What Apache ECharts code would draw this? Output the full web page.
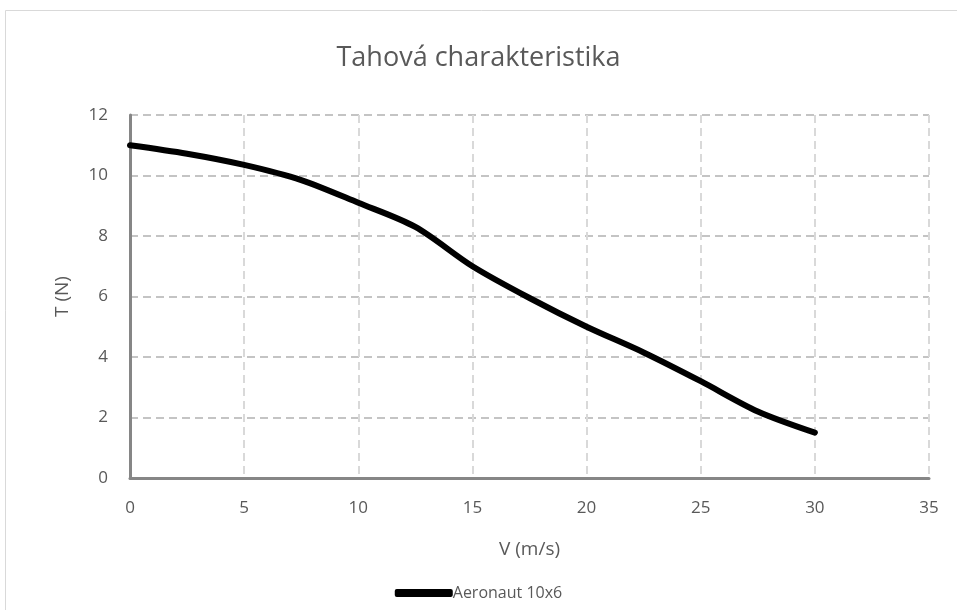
<!DOCTYPE html>
<html><head><meta charset="utf-8">
<script src="https://cdn.jsdelivr.net/npm/echarts@6/dist/echarts.min.js"></script>
<style>html,body{margin:0;padding:0;background:#fff}#c{width:957px;height:610px}</style>
</head><body><div id="c"></div>
<script>
var velocity = [0, 2.5, 5, 7.5, 10, 12.5, 15, 17.5, 20, 22.5, 25, 27.5, 30];
var thrust = [11.0, 10.72, 10.35, 9.85, 9.1, 8.3, 7.0, 5.95, 5.0, 4.15, 3.2, 2.2, 1.5];
var seriesName = 'Aeronaut 10x6';
var titleText = 'Tahová charakteristika';
var xTitle = 'V (m/s)';
var yTitle = 'T (N)';

var chart = echarts.init(document.getElementById('c'));
var font = 'Open Sans';
var txt = '#595959';
chart.setOption({
  animation: false,
  backgroundColor: '#fff',
  graphic: [{type:'rect', shape:{x:5.5,y:10.5,width:960,height:610}, style:{fill:'none', stroke:'#d9d9d9', lineWidth:1}}],
  title: {text: titleText, left: 'center', top: 40, textStyle:{fontFamily:font, fontSize:27, fontWeight:'normal', color:txt}},
  grid: {left:130, right:28, top:115, bottom:132, containLabel:false},
  legend: {bottom: 4, left: 'center', data:[{name:seriesName, icon:'roundRect'}], itemWidth:58, itemHeight:8, itemGap:0,
    textStyle:{fontFamily:font, fontSize:16, color:txt, padding:[0,0,0,-5]}},
  xAxis: {type:'value', min:0, max:35, interval:5, name:xTitle, nameLocation:'middle', nameGap:62,
    nameTextStyle:{fontFamily:font, fontSize:19, color:txt},
    axisLine:{lineStyle:{color:'#868686', width:3}}, axisTick:{show:false},
    axisLabel:{fontFamily:font, fontSize:17, color:txt, margin:22},
    splitLine:{show:true, lineStyle:{color:'#d9d9d9', width:2, type:[8,5]}}},
  yAxis: {type:'value', min:0, max:12, interval:2, name:yTitle, nameLocation:'middle', nameGap:58,
    nameTextStyle:{fontFamily:font, fontSize:19, color:txt},
    axisLine:{show:true, lineStyle:{color:'#868686', width:3}}, axisTick:{show:false},
    axisLabel:{fontFamily:font, fontSize:17, color:txt, margin:22},
    splitLine:{show:true, lineStyle:{color:'#c4c4c4', width:2, type:[8,5]}}},
  series: [{type:'line', name:seriesName, data: velocity.map(function(v,i){return [v, thrust[i]];}),
    smooth:0.3, showSymbol:false, symbol:'none', lineStyle:{color:'#000', width:6, cap:'round'}, itemStyle:{color:'#000'}}]
});
</script></body></html>
